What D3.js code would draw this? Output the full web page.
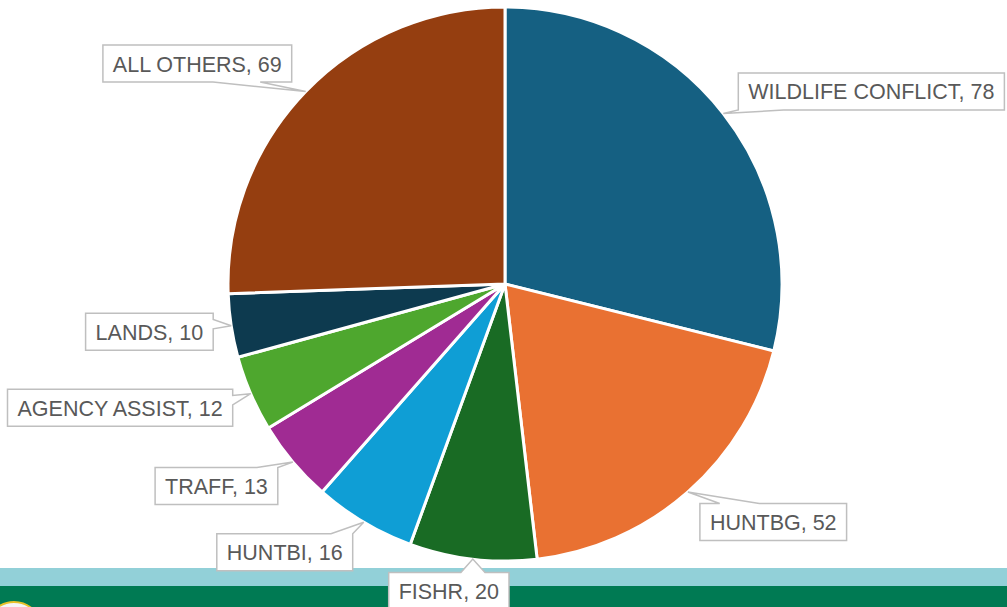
<!DOCTYPE html>
<html>
<head>
<meta charset="utf-8">
<title>Cases by type</title>
<script src="https://cdn.jsdelivr.net/npm/d3@7"></script>
<style>
  body { margin: 0; background: #fff; }
  svg { display: block; }
  .lbl { font-family: "Liberation Sans", Arial, sans-serif; font-size: 21.5px; fill: #595959; }
</style>
</head>
<body>
<div id="chart"></div>
<script>
// slices, clockwise from 12 o'clock
var categories = ['WILDLIFE CONFLICT', 'HUNTBG', 'FISHR', 'HUNTBI', 'TRAFF', 'AGENCY ASSIST', 'LANDS', 'ALL OTHERS'];
var values = [78, 52, 20, 16, 13, 12, 10, 69];
var colors = ['#156082', '#E97132', '#196B24', '#0F9ED5', '#A02B93', '#4EA72E', '#0D3A4F', '#953E10'];

// callout placement: box offset from the pointer tip, which edge the pointer leaves from
// align: where dx points to (start = box left, end = box right, middle = centre); dy = box centre
var callouts = [
  {align: 'start',  dx: 15,  dy: -22, edge: 'bottom', base: [0, 0.17]},
  {align: 'start',  dx: 12,  dy: 30,  edge: 'top',    base: [0.135, 0.405]},
  {align: 'middle', dx: -24, dy: 32,  edge: 'top',    base: [0.6, 0.8]},
  {align: 'end',    dx: -11, dy: 30,  edge: 'top',    base: [0.84, 1]},
  {align: 'end',    dx: -15, dy: 24,  edge: 'top',    base: [0.83, 1]},
  {align: 'end',    dx: -18, dy: 14,  edge: 'right',  base: [0.17, 0.42]},
  {align: 'end',    dx: -18, dy: 6,   edge: 'right',  base: [0.17, 0.42]},
  {align: 'end',    dx: -14, dy: -28, edge: 'bottom', base: [0.583, 0.833]}
];

var W = 1007, H = 607;
var cx = 505, cy = 284, R = 277;
var boxH = 37, padX = 10;

var svg = d3.select('#chart').append('svg').attr('width', W).attr('height', H);

// footer bands of the slide
svg.append('rect').attr('x', 0).attr('y', 568).attr('width', W).attr('height', 18).attr('fill', '#92D0D8');
svg.append('rect').attr('x', 0).attr('y', 586).attr('width', W).attr('height', H - 586).attr('fill', '#007A53');
svg.append('circle').attr('cx', 14).attr('cy', 630).attr('r', 28)
  .attr('fill', '#f4f6f8').attr('stroke', '#E8C22A').attr('stroke-width', 2);
svg.append('circle').attr('cx', 14).attr('cy', 630).attr('r', 21)
  .attr('fill', 'none').attr('stroke', '#9fb3c8').attr('stroke-width', 2);

var data = categories.map(function(c, i) { return {name: c, value: values[i], color: colors[i], co: callouts[i]}; });

var pie = d3.pie().sort(null).value(function(d) { return d.value; });
var arc = d3.arc().innerRadius(0).outerRadius(R);
var arcs = pie(data);

var g = svg.append('g').attr('transform', 'translate(' + cx + ',' + cy + ')');
g.selectAll('path.slice').data(arcs).enter().append('path')
  .attr('class', 'slice')
  .attr('d', arc)
  .attr('fill', function(d) { return d.data.color; })
  .attr('stroke', '#fff')
  .attr('stroke-width', 3)
  .attr('stroke-linejoin', 'round');

function calloutPoints(x0, y0, x1, y1, tip, edge, f) {
  var w = x1 - x0, h = y1 - y0;
  if (edge === 'top') return [[x0, y0], [x0 + f[0] * w, y0], tip, [x0 + f[1] * w, y0], [x1, y0], [x1, y1], [x0, y1]];
  if (edge === 'bottom') return [[x0, y0], [x1, y0], [x1, y1], [x0 + f[1] * w, y1], tip, [x0 + f[0] * w, y1], [x0, y1]];
  if (edge === 'right') return [[x0, y0], [x1, y0], [x1, y0 + f[0] * h], tip, [x1, y0 + f[1] * h], [x1, y1], [x0, y1]];
  return [[x0, y0], [x1, y0], [x1, y1], [x0, y1], [x0, y0 + f[1] * h], tip, [x0, y0 + f[0] * h]];
}

var labels = svg.append('g');
arcs.forEach(function(d) {
  var a = (d.startAngle + d.endAngle) / 2;
  var tip = [cx + R * Math.sin(a), cy - R * Math.cos(a)];
  var co = d.data.co;
  var lg = labels.append('g');
  var path = lg.append('path');
  var txt = lg.append('text').attr('class', 'lbl')
    .attr('text-anchor', 'middle').attr('dominant-baseline', 'central')
    .text(d.data.name + ', ' + d.data.value);
  var bw = txt.node().getComputedTextLength() + 2 * padX;
  var x0;
  if (co.align === 'start') x0 = tip[0] + co.dx;
  else if (co.align === 'end') x0 = tip[0] + co.dx - bw;
  else x0 = tip[0] + co.dx - bw / 2;
  var yc = tip[1] + co.dy;
  var y0 = yc - boxH / 2;
  var pts = calloutPoints(x0, y0, x0 + bw, y0 + boxH, tip, co.edge, co.base);
  path.attr('d', 'M' + pts.map(function(p) { return p[0].toFixed(1) + ',' + p[1].toFixed(1); }).join('L') + 'Z')
    .attr('fill', '#fff').attr('stroke', '#BFBFBF').attr('stroke-width', 1.5).attr('stroke-linejoin', 'miter');
  txt.attr('x', x0 + bw / 2).attr('y', yc + 1);
});
</script>
</body>
</html>
